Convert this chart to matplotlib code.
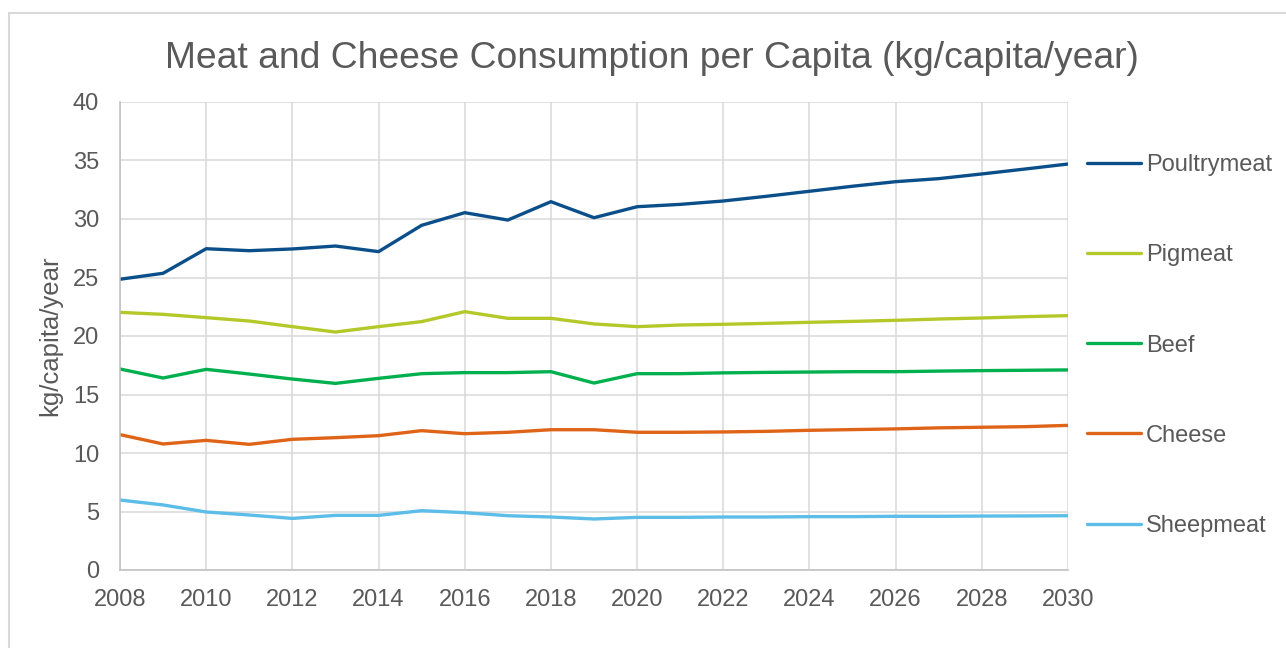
import numpy as np
import matplotlib.pyplot as plt
from matplotlib.patches import Rectangle

plt.rcParams['font.family'] = ['Liberation Sans', 'DejaVu Sans']

years = list(range(2008, 2031))

poultry = [24.85, 25.36, 27.46, 27.29, 27.44, 27.69, 27.21, 29.46, 30.54, 29.91, 31.48, 30.11,
           31.05, 31.25, 31.54, 31.94, 32.37, 32.80, 33.19, 33.45, 33.85, 34.27, 34.70]
pigmeat = [22.02, 21.85, 21.57, 21.28, 20.80, 20.34, 20.80, 21.23, 22.08, 21.51, 21.51, 21.03,
           20.80, 20.94, 21.00, 21.08, 21.17, 21.25, 21.34, 21.45, 21.54, 21.65, 21.74]
beef = [17.18, 16.41, 17.15, 16.75, 16.32, 15.95, 16.38, 16.78, 16.87, 16.87, 16.95, 15.98,
        16.78, 16.78, 16.85, 16.89, 16.92, 16.95, 16.95, 17.00, 17.04, 17.07, 17.10]
cheese = [11.57, 10.77, 11.08, 10.74, 11.17, 11.31, 11.48, 11.91, 11.65, 11.77, 11.99, 11.99,
          11.77, 11.77, 11.80, 11.85, 11.94, 12.00, 12.06, 12.15, 12.20, 12.25, 12.36]
sheep = [5.98, 5.56, 4.96, 4.70, 4.41, 4.67, 4.67, 5.07, 4.90, 4.64, 4.53, 4.36,
         4.50, 4.50, 4.53, 4.53, 4.56, 4.56, 4.59, 4.59, 4.61, 4.62, 4.64]

labels = ['Poultrymeat', 'Pigmeat', 'Beef', 'Cheese', 'Sheepmeat']
colors = ['#0B4F8A', '#B5C82A', '#00B04F', '#E06418', '#5BBDE8']
series = [poultry, pigmeat, beef, cheese, sheep]

text_color = '#595959'
grid_color = '#D9D9D9'

W, H = 1286, 648
fig = plt.figure(figsize=(W / 100, H / 100), dpi=100)
ax = fig.add_axes([120 / W, 1 - 570 / H, (1068 - 120) / W, (570 - 102) / H])

# outer chart frame, runs off the right and bottom edges
fig.patches.append(Rectangle((9 / W, -1), 2, 2 - 13 / H, transform=fig.transFigure,
                             fill=False, edgecolor='#D9D9D9', linewidth=1.5))

for vals, lab, col in zip(series, labels, colors):
    ax.plot(years, vals, color=col, linewidth=2.4, label=lab, solid_capstyle='round')

ax.set_xlim(2008, 2030)
ax.set_ylim(0, 40)
ax.set_xticks(range(2008, 2031, 2))
ax.set_yticks(range(0, 41, 5))
ax.grid(True, color=grid_color, linewidth=1.1)
ax.set_axisbelow(True)
for side in ['top', 'right']:
    ax.spines[side].set_visible(False)
for side in ['left', 'bottom']:
    ax.spines[side].set_color('#BFBFBF')
    ax.spines[side].set_linewidth(1.1)
ax.tick_params(length=0, labelsize=17, colors=text_color)
ax.tick_params(axis='y', pad=15)
ax.tick_params(axis='x', pad=14)

ax.set_ylabel('kg/capita/year', fontsize=18.5, color=text_color)
ax.yaxis.set_label_coords(-0.061, 0.5)
fig.text(652 / W, 1 - 58 / H, 'Meat and Cheese Consumption per Capita (kg/capita/year)',
         ha='center', va='center', fontsize=26.8, color=text_color)

leg = ax.legend(loc='upper left', bbox_to_anchor=(1.010, 0.909), frameon=False,
                fontsize=17, handlelength=2.3, handletextpad=0.2, labelspacing=2.89,
                labelcolor=text_color, borderaxespad=0)

fig.savefig('out.png', dpi=100, facecolor='white')
